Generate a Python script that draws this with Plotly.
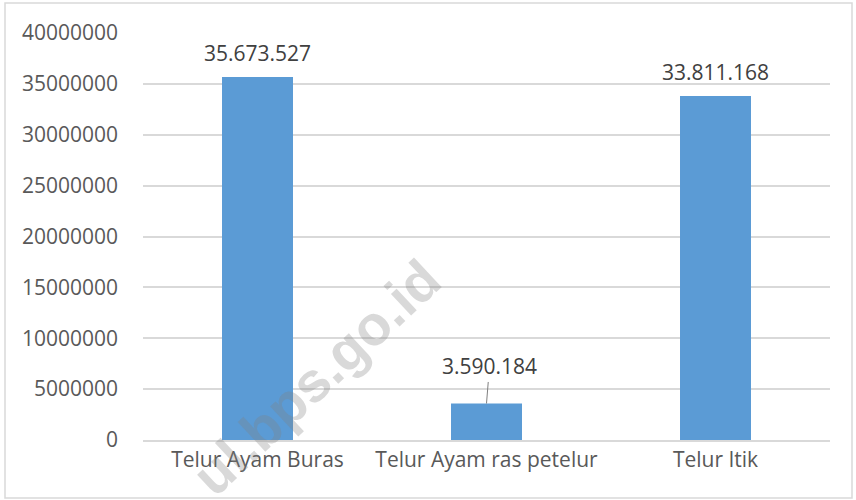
import plotly.graph_objects as go

# Data
categories = ["Telur Ayam Buras", "Telur Ayam ras petelur", "Telur Itik"]
values = [35673527, 3590184, 33811168]
y_ticks = [0, 5000000, 10000000, 15000000, 20000000, 25000000, 30000000, 35000000, 40000000]

labels = [f"{v:,}".replace(",", ".") for v in values]

FONT = "Open Sans"
BAR = "#5B9BD5"
GRID = "#D9D9D9"
FS = 21

fig = go.Figure()

fig.add_trace(go.Bar(
    x=categories,
    y=values,
    marker=dict(color=BAR, line=dict(width=0)),
    hoverinfo="x+y",
))

# Data labels (middle one pulled up with a leader line, like Excel)
for cat, val, lab in zip(categories, values, labels):
    if val < 10000000:
        fig.add_annotation(
            x=cat, y=val, text=lab, showarrow=True, arrowhead=0,
            arrowwidth=1, arrowcolor="#7F7F7F", ax=3, ay=-37,
            font=dict(family=FONT, size=FS, color="#404040"),
        )
    else:
        fig.add_annotation(
            x=cat, y=val, text=lab, showarrow=False, yshift=24,
            font=dict(family=FONT, size=FS, color="#404040"),
        )

# Watermark (runs off the bottom edge, as in the source image)
fig.add_annotation(
    xref="paper", yref="paper", x=(316 - 143) / 687, y=(440 - 377) / 407,
    xanchor="center", yanchor="middle",
    text="<b>ul.bps.go.id</b>", showarrow=False, textangle=-43,
    font=dict(family="Liberation Sans", size=56, color="rgba(128,128,128,0.3)"),
)

# Chart border
fig.add_shape(
    type="rect", xref="paper", yref="paper",
    x0=(5 - 143) / 687, x1=(852 - 143) / 687,
    y0=(440 - 498) / 407, y1=(440 - 3) / 407,
    line=dict(color=GRID, width=1.5), fillcolor="rgba(0,0,0,0)", layer="below",
)

fig.update_layout(
    width=856, height=500,
    margin=dict(l=143, r=26, t=33, b=60),
    plot_bgcolor="white", paper_bgcolor="white",
    bargap=0.69,
    showlegend=False,
    font=dict(family=FONT, size=FS, color="#595959"),
    xaxis=dict(showgrid=False, showline=True, linecolor=GRID, linewidth=1.5,
               ticks="", tickfont=dict(size=FS, color="#595959")),
    yaxis=dict(range=[0, 40000000], tickvals=y_ticks,
               ticktext=[str(t) for t in y_ticks],
               showgrid=True, gridcolor=GRID, gridwidth=1.5,
               zeroline=False, showline=False, ticks="",
               ticklabelstandoff=24,
               tickfont=dict(size=FS, color="#595959")),
)

fig.write_html("out.html", config={"displayModeBar": False},
               post_script="document.body.style.margin='0';")
